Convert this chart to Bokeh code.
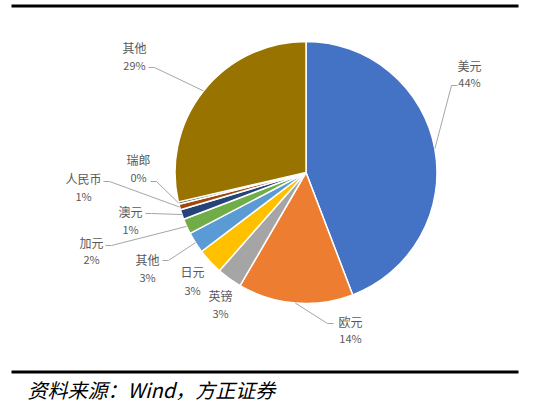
import math
from bokeh.plotting import figure
from bokeh.models import Range1d, ColumnDataSource
from bokeh.core.properties import value
from bokeh.embed import file_html
from bokeh.resources import INLINE

# ---- data ----
currencies = ["美元", "欧元", "英镑", "日元", "其他", "加元", "澳元", "人民币", "瑞郎", "其他"]
shares = [44.2, 14.2, 3.1, 3.2, 2.6, 1.9, 1.2, 0.7, 0.3, 28.6]
source_note = "资料来源：Wind，方正证券"

# ---- styles ----
colors = ["#4472C4", "#ED7D31", "#A5A5A5", "#FFC000", "#5B9BD5",
          "#70AD47", "#264478", "#9E480E", "#636363", "#997300"]
FONT = "Noto Sans CJK SC"
TXT = "#595959"

# ---- layout (picture pixel coordinates) ----
W, H = 544, 403
def Y(yimg):
    return H - yimg

cx, cy_img, R = 305.5, 172, 131
label_pos = [
    ((469, 65), (469, 81), (457, 85, -1)),
    ((350, 321), (350, 337), (333, 323, -1)),
    ((220, 295), (220, 312), None),
    ((192, 271), (192, 289), None),
    ((147, 259), (147, 276), (162, 260, 1)),
    ((91, 242), (91, 258), (105, 245, 1)),
    ((130, 211), (130, 228), (145, 213, 1)),
    ((83, 178), (83, 195), (103, 181, 1)),
    ((138, 159), (138, 176), (150, 181, 1)),
    ((134, 47), (134, 64), (148, 67, 1)),
]

p = figure(width=W, height=H, output_backend="svg", toolbar_location=None,
           x_range=Range1d(0, W), y_range=Range1d(0, H),
           min_border=0, outline_line_color=None, background_fill_color="white",
           border_fill_color="white")
p.axis.visible = False
p.grid.visible = False

total = sum(shares)
starts, ends, mids = [], [], []
cum = 0.0
for v in shares:
    f0 = cum / total
    cum += v
    f1 = cum / total
    starts.append(math.pi / 2 - 2 * math.pi * f1)
    ends.append(math.pi / 2 - 2 * math.pi * f0)
    mids.append(2 * math.pi * (f0 + f1) / 2)

src = ColumnDataSource(dict(start=starts, end=ends, color=colors,
                            x=[cx] * len(shares), y=[Y(cy_img)] * len(shares)))
p.wedge(x="x", y="y", radius=R, start_angle="start", end_angle="end",
        direction="anticlock", fill_color="color", line_color="white",
        line_width=1.5, source=src)

lx, ly = [], []
for i, (nm, pc, anc) in enumerate(label_pos):
    if anc is None:
        continue
    ax, ay, d = anc
    ex = cx + R * math.sin(mids[i])
    ey = cy_img - R * math.cos(mids[i])
    lx.append([ax, ax + 6 * d, ex])
    ly.append([Y(ay), Y(ay), Y(ey)])
p.multi_line(xs=lx, ys=ly, line_color="#A6A6A6", line_width=1)

pcts = [f"{round(v)}%" for v in shares]
p.text(x=[lp[0][0] for lp in label_pos], y=[Y(lp[0][1]) for lp in label_pos],
       text=currencies, text_font=value(FONT), text_font_size="12px",
       text_color=TXT, text_align="center", text_baseline="middle")
p.text(x=[lp[1][0] for lp in label_pos], y=[Y(lp[1][1]) for lp in label_pos],
       text=pcts, text_font=value(FONT), text_font_size="11px",
       text_color=TXT, text_align="center", text_baseline="middle")

p.line(x=[11, 518], y=[Y(5.5), Y(5.5)], line_color="black", line_width=3)
p.line(x=[11, 518], y=[Y(371.5), Y(371.5)], line_color="black", line_width=3)

p.text(x=[27], y=[Y(389)], text=[source_note], text_font=value(FONT),
       text_font_size="20px", text_font_style="italic", text_color="black",
       text_align="left", text_baseline="middle")

open("out.html", "w").write(file_html(p, INLINE))
